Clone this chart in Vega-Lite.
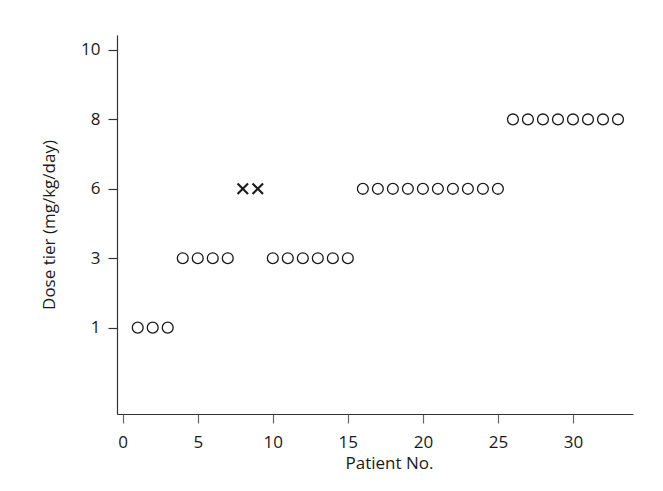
{
  "$schema": "https://vega.github.io/schema/vega-lite/v6.json",
  "autosize": "none",
  "width": 516,
  "height": 379,
  "padding": {"left": 117, "top": 35, "right": 30, "bottom": 77},
  "background": "white",
  "config": {
    "view": {"stroke": null},
    "font": "Open Sans",
    "axis": {
      "labelFont": "Open Sans",
      "titleFont": "Open Sans",
      "labelFontSize": 17,
      "titleFontSize": 17,
      "titleFontWeight": "normal",
      "labelColor": "#1a1a1a",
      "titleColor": "#1a1a1a",
      "domainColor": "#333333",
      "domainWidth": 1.2,
      "tickColor": "#666666",
      "tickWidth": 1.2,
      "tickSize": 9,
      "grid": false
    }
  },
  "data": {
    "values": [
      {"patient": 1, "rank": 1, "dose": 1, "outcome": "ok"},
      {"patient": 2, "rank": 1, "dose": 1, "outcome": "ok"},
      {"patient": 3, "rank": 1, "dose": 1, "outcome": "ok"},
      {"patient": 4, "rank": 2, "dose": 3, "outcome": "ok"},
      {"patient": 5, "rank": 2, "dose": 3, "outcome": "ok"},
      {"patient": 6, "rank": 2, "dose": 3, "outcome": "ok"},
      {"patient": 7, "rank": 2, "dose": 3, "outcome": "ok"},
      {"patient": 8, "rank": 3, "dose": 6, "outcome": "dlt"},
      {"patient": 9, "rank": 3, "dose": 6, "outcome": "dlt"},
      {"patient": 10, "rank": 2, "dose": 3, "outcome": "ok"},
      {"patient": 11, "rank": 2, "dose": 3, "outcome": "ok"},
      {"patient": 12, "rank": 2, "dose": 3, "outcome": "ok"},
      {"patient": 13, "rank": 2, "dose": 3, "outcome": "ok"},
      {"patient": 14, "rank": 2, "dose": 3, "outcome": "ok"},
      {"patient": 15, "rank": 2, "dose": 3, "outcome": "ok"},
      {"patient": 16, "rank": 3, "dose": 6, "outcome": "ok"},
      {"patient": 17, "rank": 3, "dose": 6, "outcome": "ok"},
      {"patient": 18, "rank": 3, "dose": 6, "outcome": "ok"},
      {"patient": 19, "rank": 3, "dose": 6, "outcome": "ok"},
      {"patient": 20, "rank": 3, "dose": 6, "outcome": "ok"},
      {"patient": 21, "rank": 3, "dose": 6, "outcome": "ok"},
      {"patient": 22, "rank": 3, "dose": 6, "outcome": "ok"},
      {"patient": 23, "rank": 3, "dose": 6, "outcome": "ok"},
      {"patient": 24, "rank": 3, "dose": 6, "outcome": "ok"},
      {"patient": 25, "rank": 3, "dose": 6, "outcome": "ok"},
      {"patient": 26, "rank": 4, "dose": 8, "outcome": "ok"},
      {"patient": 27, "rank": 4, "dose": 8, "outcome": "ok"},
      {"patient": 28, "rank": 4, "dose": 8, "outcome": "ok"},
      {"patient": 29, "rank": 4, "dose": 8, "outcome": "ok"},
      {"patient": 30, "rank": 4, "dose": 8, "outcome": "ok"},
      {"patient": 31, "rank": 4, "dose": 8, "outcome": "ok"},
      {"patient": 32, "rank": 4, "dose": 8, "outcome": "ok"},
      {"patient": 33, "rank": 4, "dose": 8, "outcome": "ok"}
    ]
  },
  "mark": {"type": "point", "filled": false, "stroke": "#1a1a1a", "opacity": 1},
  "encoding": {
    "x": {
      "field": "patient",
      "type": "quantitative",
      "scale": {"domain": [-0.38, 34], "nice": false, "zero": false},
      "axis": {"values": [0, 5, 10, 15, 20, 25, 30], "title": "Patient No.", "labelPadding": 11, "titlePadding": 5, "titleX": 272}
    },
    "y": {
      "field": "rank",
      "type": "quantitative",
      "scale": {"domain": [-0.244, 5.216], "nice": false, "zero": false},
      "axis": {
        "values": [1, 2, 3, 4, 5],
        "labelExpr": "datum.value == 1 ? '1' : datum.value == 2 ? '3' : datum.value == 3 ? '6' : datum.value == 4 ? '8' : '10'",
        "title": "Dose tier (mg/kg/day)",
        "labelPadding": 8,
        "titlePadding": 22,
        "tickColor": "#333333"
      }
    },
    "shape": {
      "field": "outcome",
      "type": "nominal",
      "scale": {"domain": ["ok", "dlt"], "range": ["circle", "M-1,-1L1,1M-1,1L1,-1"]},
      "legend": null
    },
    "size": {
      "field": "outcome",
      "type": "nominal",
      "scale": {"domain": ["ok", "dlt"], "range": [118, 110]},
      "legend": null
    },
    "strokeWidth": {
      "field": "outcome",
      "type": "nominal",
      "scale": {"domain": ["ok", "dlt"], "range": [1.3, 2.1]},
      "legend": null
    }
  }
}
